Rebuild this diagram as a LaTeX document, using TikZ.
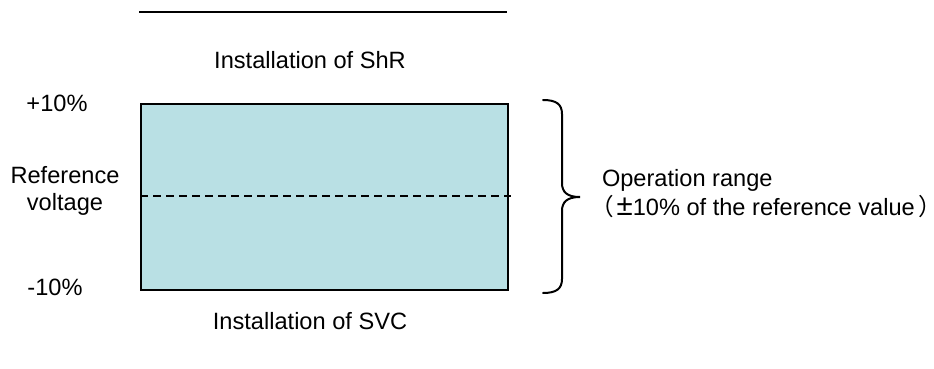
\documentclass[tikz,border=0pt]{standalone}
\usepackage{fontspec}
\setmainfont{Liberation Sans}
\newfontfamily\cjkfont{Noto Sans CJK JP}
\definecolor{bandfill}{HTML}{B9E0E4}

\begin{document}
\begin{tikzpicture}[x=1pt,y=-1pt,line width=2pt,
  lbl/.style={font=\fontsize{23.6}{27.5}\selectfont, inner sep=0pt},
  band/.style={draw=black, fill=bandfill, line width=2pt, inner sep=0pt,
    minimum width=367pt, minimum height=186pt, anchor=north west},
  refline/.style={dash pattern=on 8pt off 5pt, line width=2pt}]
\useasboundingbox (0,0) rectangle (934,369);

% upper limit line
\coordinate (topL) at (139,12.5);
\coordinate (topR) at (507,12.5);
\draw (topL) -- (topR);

% permitted voltage band
\node[band] (band) at (140,103) {};

% reference voltage line
\coordinate (refL) at (140,196);
\coordinate (refR) at (511,196);
\draw[refline] (refL) -- (refR);

% curly brace
\coordinate (brT) at (543,100);
\coordinate (brM) at (580,197);
\coordinate (brB) at (543,293);
\draw[line cap=round] (brT) .. controls (556,100) and (562,104) .. (562,114)
  -- (562,183) .. controls (562,192) and (567,197) .. (brM)
  .. controls (567,197) and (562,202) .. (562,211)
  -- (562,279) .. controls (562,289) and (556,293) .. (brB);

% labels
\node[lbl] (shr) at (310,60) {Installation of ShR};
\node[lbl] (svc) at (310,321) {Installation of SVC};
\node[lbl] (plus) at (57,103) {+10\%};
\node[lbl] (minus) at (55,287) {-10\%};
\node[lbl, align=center] (ref) at (65,191) {Reference\\voltage};
\node[lbl, anchor=west] (range) at (601,180) {Operation range};
\node[lbl, anchor=west] (rangenote) at (601,207)
  {\hspace*{-12pt}{\cjkfont （}\hspace{3pt}{\fontsize{29.5}{27.5}\selectfont ±}10\% of the reference value\hspace{4pt}{\cjkfont ）}\hspace{-16pt}};
\end{tikzpicture}
\end{document}
